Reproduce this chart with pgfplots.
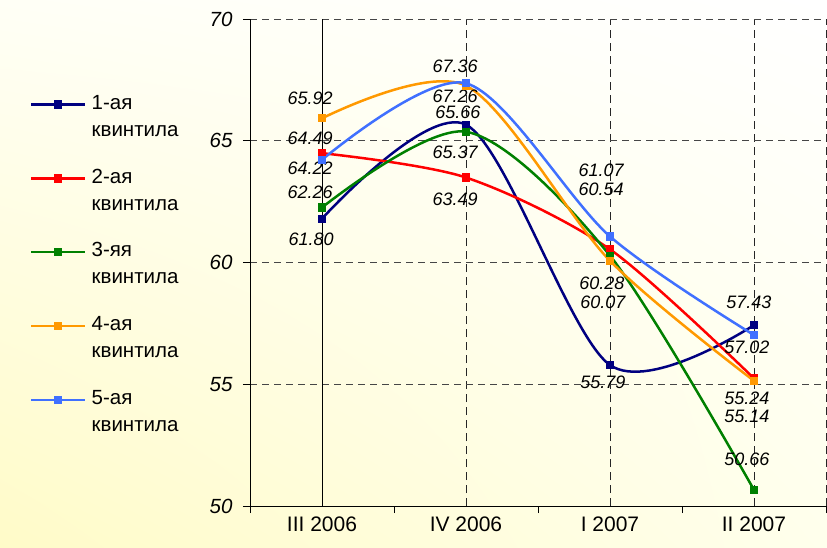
\documentclass[border=0pt]{standalone}
\usepackage{pgfplots}
\pgfplotsset{compat=1.18}
\usetikzlibrary{shadings}
\usepackage{fontspec}
\setmainfont{Liberation Sans}
\definecolor{c1}{RGB}{0,0,128}
\definecolor{c2}{RGB}{255,0,0}
\definecolor{c3}{RGB}{0,128,0}
\definecolor{c4}{RGB}{255,153,0}
\definecolor{c5}{RGB}{64,112,255}
\definecolor{gridc}{RGB}{70,70,70}
\definecolor{bgul}{RGB}{255,255,246}
\definecolor{bgll}{RGB}{255,251,200}
\definecolor{bglr}{RGB}{255,255,236}
\newcommand{\legtext}[1]{\smash{\raisebox{-5.5pt}{\begin{tabular}[t]{@{}l@{}}#1\\квинтила\end{tabular}}}}
\begin{document}
\begin{tikzpicture}
\shade[upper left=bgul, upper right=white, lower left=bgll, lower right=bglr]
       (0,0) rectangle (827pt,547pt);
\useasboundingbox (0,0) rectangle (827pt,547pt);
\begin{axis}[
  at={(250pt,41pt)}, anchor=south west,
  width=576pt, height=487pt, scale only axis,
  xmin=-0.5, xmax=3.5, ymin=50, ymax=70,
  axis x line*=bottom, axis y line*=left,
  axis line style={black, line width=0.9pt},
  xtick={-0.5,0.5,1.5,2.5,3.5},
  xticklabels={III 2006, IV 2006, I 2007, II 2007},
  x tick label as interval,
  minor xtick={0,1,2,3},
  xminorgrids,
  minor grid style={black!85, line width=0.8pt, dash pattern=on 8pt off 5pt},
  minor tick length=0pt,
  ytick={50,55,60,65,70},
  ymajorgrids,
  major grid style={gridc, line width=0.8pt, dash pattern=on 7pt off 5pt},
  tick align=outside,
  major tick length=7pt,
  tick style={black, line width=0.8pt},
  xticklabel style={font=\fontsize{21}{21}\selectfont},
  yticklabel style={font=\fontsize{20.5}{20}\selectfont\itshape, xshift=-7pt},
  /pgf/number format/assume math mode=true,
  clip=false,
  legend style={at={(axis description cs:-0.382,0.8306)}, anchor=north west,
    draw=none, fill=none, inner sep=0pt,
    font=\fontsize{20.5}{27}\selectfont,
    row sep=68pt, column sep=6pt,
    nodes={inner sep=0pt, font=\fontsize{20.5}{27}\selectfont}},
  legend cell align=left,
  legend image code/.code={\draw[mark repeat=2, mark phase=2, #1] plot coordinates {(0pt,0pt) (26.5pt,0pt) (53pt,0pt)};},
  every axis plot/.append style={line width=2.5pt, mark=square*, mark size=2.9pt, smooth, tension=0.5},
]
\draw[black, line width=0.8pt] (axis cs:0,50) -- (axis cs:0,70);
\draw[black!85, line width=0.8pt, dash pattern=on 8pt off 5pt] (axis cs:3.5,50) -- (axis cs:3.5,70);

\addplot[c1, mark options={solid, fill=c1}] coordinates {(0,61.80) (1,65.66) (2,55.79) (3,57.43)};
\addlegendentry{\legtext{1-ая}}
\addplot[c2, mark options={solid, fill=c2}] coordinates {(0,64.49) (1,63.49) (2,60.54) (3,55.24)};
\addlegendentry{\legtext{2-ая}}
\addplot[c3, mark options={solid, fill=c3}] coordinates {(0,62.26) (1,65.37) (2,60.28) (3,50.66)};
\addlegendentry{\legtext{3-яя}}
\addplot[c4, mark options={solid, fill=c4}] coordinates {(0,65.92) (1,67.26) (2,60.07) (3,55.14)};
\addlegendentry{\legtext{4-ая}}
\addplot[c5, mark options={solid, fill=c5}] coordinates {(0,64.22) (1,67.36) (2,61.07) (3,57.02)};
\addlegendentry{\legtext{5-ая}}

\begin{scope}[every node/.style={font=\fontsize{18}{18}\selectfont\itshape, inner sep=0pt}]
\node at (axis cs:-0.083,66.76) {65.92};
\node at (axis cs:-0.083,65.11) {64.49};
\node at (axis cs:-0.083,63.88) {64.22};
\node at (axis cs:-0.083,62.90) {62.26};
\node at (axis cs:-0.076,60.97) {61.80};
\node at (axis cs:0.924,68.07) {67.36};
\node at (axis cs:0.924,66.84) {67.26};
\node at (axis cs:0.944,66.18) {65.66};
\node at (axis cs:0.924,64.54) {65.37};
\node at (axis cs:0.924,62.61) {63.49};
\node at (axis cs:1.938,63.80) {61.07};
\node at (axis cs:1.938,63.02) {60.54};
\node at (axis cs:1.944,59.16) {60.28};
\node at (axis cs:1.951,58.38) {60.07};
\node at (axis cs:1.951,55.09) {55.79};
\node at (axis cs:2.965,58.38) {57.43};
\node at (axis cs:2.951,56.53) {57.02};
\node at (axis cs:2.951,54.44) {55.24};
\node at (axis cs:2.951,53.66) {55.14};
\node at (axis cs:2.951,51.93) {50.66};
\end{scope}
\end{axis}
\end{tikzpicture}
\end{document}
